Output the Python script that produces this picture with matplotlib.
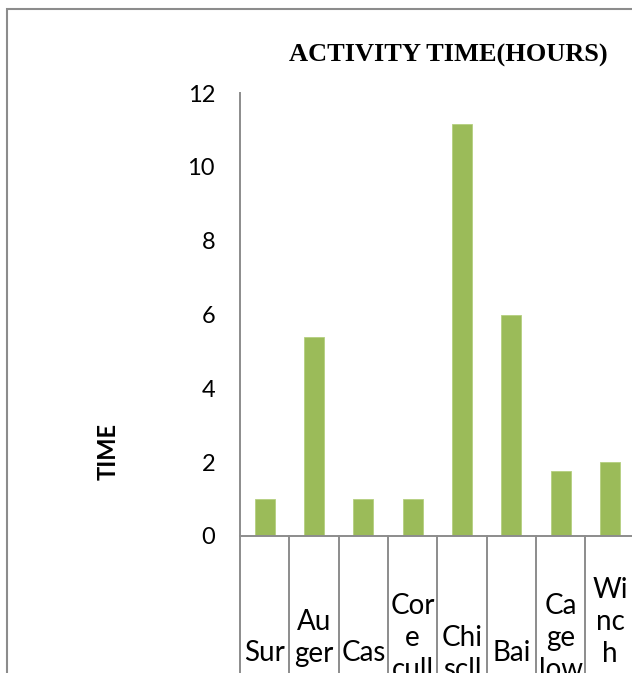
import matplotlib
matplotlib.use("Agg")
import matplotlib.pyplot as plt
import matplotlib.transforms as mtransforms
from matplotlib.patches import Rectangle

# ---- data ----
categories = ["Sur", "Auger", "Cas", "Core cull", "Chiscll", "Bai", "Cage low", "Winch"]
label_lines = [["Sur"], ["Au", "ger"], ["Cas"], ["Cor", "e", "cull"],
               ["Chi", "scll"], ["Bai"], ["Ca", "ge", "low"], ["Wi", "nc", "h"]]
values = [1.0, 5.4, 1.0, 1.0, 11.15, 6.0, 1.75, 2.0]
yticks = [0, 2, 4, 6, 8, 10, 12]
title = "ACTIVITY TIME(HOURS)"
ylabel = "TIME"

# ---- layout ----
W, H = 632, 673
DPI = 100
fig = plt.figure(figsize=(W / DPI, H / DPI), dpi=DPI)
fig.patch.set_facecolor("white")

def fx(px):
    return px / W

def fy(py):
    return 1 - py / H

ax_left, ax_right = 240, 240 + 8 * 49.33
ax_top, ax_bottom = 93, 536
ax = fig.add_axes([fx(ax_left), fy(ax_bottom), (ax_right - ax_left) / W,
                   (ax_bottom - ax_top) / H])

axis_col = "#8c8c8c"
bar_col = "#9bbb59"

x = list(range(len(categories)))
ax.bar(x, values, width=0.405, color=bar_col, edgecolor="#b5cf7f", linewidth=0.6, zorder=2)
ax.set_xlim(-0.5, len(categories) - 0.5)
ax.set_ylim(0, 12)
ax.set_yticks(yticks)
ax.set_yticklabels([str(t) for t in yticks], fontfamily="Lato", fontsize=17, color="black")
ax.tick_params(axis="y", length=0, pad=18)
ax.set_xticks([])

for s in ["top", "right"]:
    ax.spines[s].set_visible(False)
for s in ["left", "bottom"]:
    ax.spines[s].set_color(axis_col)
    ax.spines[s].set_linewidth(1.4)
    ax.spines[s].set_zorder(3)

# category divider lines extending below the axis
btrans = mtransforms.blended_transform_factory(ax.transData, ax.transAxes)
for k in range(len(categories) + 1):
    ax.plot([k - 0.5, k - 0.5], [0, -0.5], transform=btrans, color=axis_col,
            lw=1.4, clip_on=False, zorder=3)

# wrapped category labels (cut by figure bottom like the reference)
ltrans = mtransforms.blended_transform_factory(ax.transData, fig.transFigure)
first_line_y = [653, 622, 653, 606, 638, 653, 606, 590]
line_step = 32
for i, lines in enumerate(label_lines):
    for j, t in enumerate(lines):
        ax.text(i, fy(first_line_y[i] + j * line_step), t, transform=ltrans,
                ha="center", va="center", fontfamily="Lato", fontsize=20,
                color="black", clip_on=False)

# title and axis label
fig.text(fx(448), fy(55), title, ha="center", va="center",
         fontfamily="Liberation Serif", fontweight="bold", fontsize=19)
fig.text(fx(108), fy(452), ylabel, ha="center", va="center", rotation=90,
         fontfamily="Lato", fontweight="bold", fontsize=17)

# outer chart border (cropped at right and bottom)
fig.patches.append(Rectangle((fx(7), -0.2), 2.0, fy(9) + 0.2, transform=fig.transFigure,
                             fill=False, edgecolor=axis_col, lw=1.5))

fig.savefig("out.png", dpi=DPI)
